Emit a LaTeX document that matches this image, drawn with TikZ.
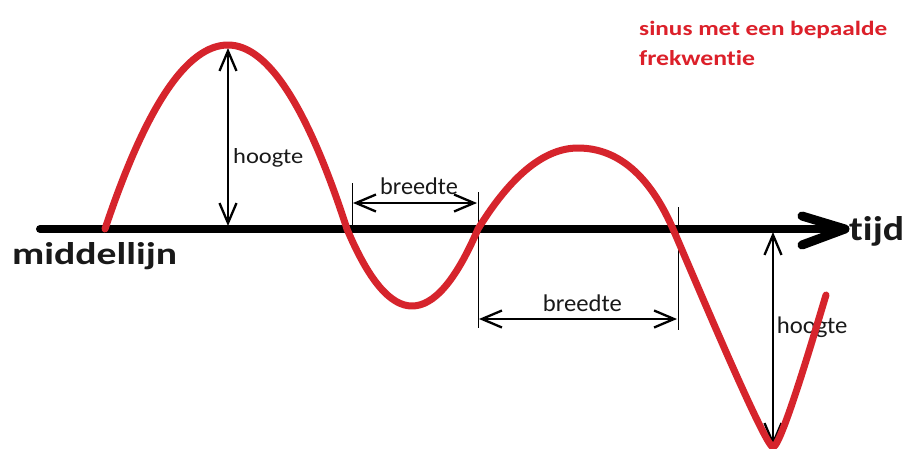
\documentclass[tikz,border=0pt]{standalone}
\usepackage{fontspec}
\setmainfont{Carlito}[Ligatures=NoCommon]
\usetikzlibrary{arrows.meta}
\definecolor{wave}{RGB}{214,36,44}
\definecolor{redtext}{RGB}{220,32,42}
\newcommand{\fitbox}[3]{\resizebox{#1pt}{#2pt}{#3}}
\begin{document}
\begin{tikzpicture}[x=1pt,y=-1pt,
  axisline/.style={line width=8pt, line cap=round},
  chev/.style={line width=9pt, line cap=round, line join=round},
  dimarrow/.style={line width=2.3pt, {Straight Barb[length=20pt,width=17pt]}-{Straight Barb[length=20pt,width=17pt]}},
  guide/.style={line width=1pt},
  wavecurve/.style={line width=7pt, draw=wave, line cap=round, line join=round},
  lbl/.style={inner sep=0pt, anchor=base west, text=black!90},
  bigtext/.style={lbl, font=\bfseries},
  title/.style={inner sep=0pt, anchor=base west, font=\bfseries, text=redtext}]
\useasboundingbox (0,0) rectangle (908,448);
\fill[white] (0,0) rectangle (908,448);

% coordinates
\coordinate (axL) at (40,229);
\coordinate (axR) at (838,229);
\coordinate (chU) at (802,216);
\coordinate (chT) at (845,229);
\coordinate (chD) at (802,245);

\coordinate (h1top) at (228,48);
\coordinate (h1bot) at (228,226);
\coordinate (b1l) at (353,203);
\coordinate (b1r) at (477,203);
\coordinate (b2l) at (479,319);
\coordinate (b2r) at (677,319);
\coordinate (h2top) at (773,232);
\coordinate (h2bot) at (773,446);

\coordinate (g1t) at (352,183);
\coordinate (g1b) at (352,229);
\coordinate (g2t) at (478,192);
\coordinate (g2b) at (478,328);
\coordinate (g3t) at (678,207);
\coordinate (g3b) at (678,330);

\coordinate (w0) at (105,229);
\coordinate (w1) at (228,45);
\coordinate (w2) at (347,229);
\coordinate (w3) at (412,306);
\coordinate (w4) at (478,229);
\coordinate (w5) at (578,148);
\coordinate (w6) at (673,229);
\coordinate (w7) at (773,447);
\coordinate (w8) at (826,295);

% axis
\draw[axisline] (axL) -- (axR);
\draw[chev] (chU) -- (chT) -- (chD);

% guides
\draw[guide] (g1t) -- (g1b);
\draw[guide] (g2t) -- (g2b);
\draw[guide] (g3t) -- (g3b);

% dimension arrows
\draw[dimarrow] (h1bot) -- (h1top);
\draw[dimarrow] (b1l) -- (b1r);
\draw[dimarrow] (b2l) -- (b2r);
\draw[dimarrow] (h2top) -- (h2bot);

% labels
\node[bigtext] (mid) at (12,264) {\fitbox{165}{22}{middellijn}};
\node[bigtext] (tijd) at (849,240.7) {\fitbox{55}{24}{tijd}};
\node[lbl] (hoogteA) at (233,163.3) {\fitbox{70}{15}{hoogte}};
\node[lbl] (breedteA) at (380,194) {\fitbox{77.7}{16.7}{breedte}};
\node[lbl] (breedteB) at (542.7,311.7) {\fitbox{79}{16.7}{breedte}};
\node[lbl] (hoogteB) at (776.7,333.3) {\fitbox{70.6}{16.6}{hoogte}};

% wave
\draw[wavecurve] (w0) .. controls (146,106.3) and (187,45) .. (w1)
  .. controls (267.7,45) and (307.3,106.3) .. (w2)
  .. controls (368.7,280.3) and (390.3,306) .. (w3)
  .. controls (434,306) and (456,280.3) .. (w4)
  .. controls (511.3,175) and (544.7,148) .. (w5)
  .. controls (623,148) and (653,183) .. (w6)
  .. controls (693,275) and (765,447) .. (w7)
  .. controls (781,447) and (814,335) .. (w8);

% title
\node[title] (titleA) at (639,35) {\fitbox{248}{14.3}{sinus met een bepaalde}};
\node[title] (titleB) at (639,65) {\fitbox{116}{15}{frekwentie}};
\end{tikzpicture}
\end{document}
